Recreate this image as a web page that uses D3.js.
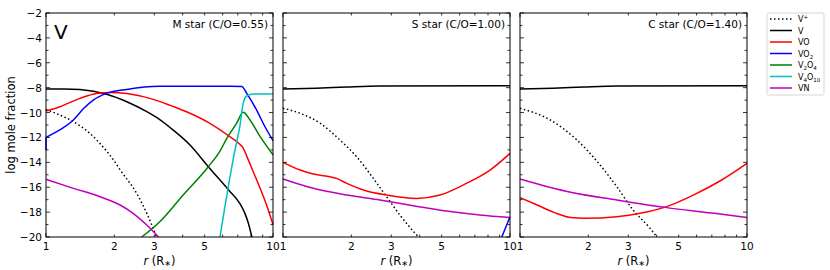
<!DOCTYPE html>
<html><head><meta charset="utf-8">
<script src="https://cdn.jsdelivr.net/npm/d3@7"></script>
<style>body{margin:0;background:#fff}svg{font-family:"DejaVu Sans",sans-serif}</style>
</head><body><svg id="c" width="830" height="270"></svg>
<script>
// ---------- data (r in R*, log mole fraction) ----------
const panelTitles = ["M star (C/O=0.55)", "S star (C/O=1.00)", "C star (C/O=1.40)"];
const yTicks = [-2,-4,-6,-8,-10,-12,-14,-16,-18,-20];
const xTickLabels = [1,2,3,5,10];

const M_Vp = [[1,-9.75],[1.15,-10.2],[1.32,-10.73],[1.56,-11.67],[1.79,-12.8],[2.0,-13.9],[2.12,-14.6],[2.51,-16.5],[2.78,-18.1],[3.02,-19.7],[3.06,-20]];
const M_V = [[1,-8.1],[1.2,-8.1],[1.41,-8.15],[1.85,-8.53],[2.27,-9.13],[2.78,-9.93],[3.16,-10.55],[3.52,-11.2],[4.31,-12.6],[5.19,-14.35],[6.36,-16.2],[7.14,-17.3],[7.52,-18.1],[7.79,-18.9],[8.07,-20]];
const M_VO = [[1,-9.88],[1.15,-9.53],[1.41,-8.86],[1.67,-8.46],[1.91,-8.38],[2.27,-8.46],[2.68,-8.72],[3.16,-9.1],[3.52,-9.42],[4.31,-10.06],[5.27,-10.87],[6.45,-11.94],[7.14,-12.55],[7.39,-12.85],[7.66,-13.5],[8.2,-14.8],[8.78,-16.1],[9.4,-17.5],[10,-19.0]];
const M_VO2_edge = [[1,-13],[1,-12]];
const M_VO2 = [[1,-12],[1.15,-11.4],[1.32,-10.6],[1.46,-9.7],[1.62,-8.98],[1.85,-8.46],[2.27,-8.14],[3.16,-7.89],[4.5,-7.88],[6.5,-7.88],[7.29,-7.9],[7.66,-8.46],[8.47,-9.8],[9.22,-11.14],[10,-12.25]];
const M_V2O4 = [[2.64,-20],[3.18,-18.75],[4.03,-16.6],[5.19,-14.35],[5.84,-13.1],[6.25,-12.1],[6.92,-10.85],[7.39,-9.98],[7.92,-10.6],[8.78,-11.94],[10,-13.4]];
const M_V4O10 = [[5.84,-20],[6.8,-13.0],[7.14,-11.14],[7.39,-9.26],[7.66,-8.67],[8.2,-8.5],[10,-8.5]];
const M_VN = [[1,-15.37],[1.32,-16.09],[1.73,-16.76],[2.12,-17.43],[2.42,-18.1],[2.78,-19.04],[3.13,-20]];

const S_Vp = [[1,-9.66],[1.19,-10.06],[1.46,-10.87],[1.78,-12.2],[2.11,-13.55],[2.5,-15.29],[2.86,-16.76],[3.27,-18.23],[3.88,-19.84],[3.95,-20]];
const S_V = [[1,-8.11],[1.4,-8.05],[1.91,-7.95],[2.67,-7.87],[10,-7.84]];
const S_VO = [[1,-14.0],[1.19,-14.62],[1.36,-14.94],[1.72,-15.29],[1.91,-15.69],[2.26,-16.22],[2.86,-16.63],[3.88,-16.9],[4.92,-16.63],[6.43,-15.69],[8.17,-14.62],[10,-13.28]];
const S_VO2 = [[9.2,-20],[10,-18.37]];
const S_VN = [[1,-15.34],[1.36,-16.09],[1.91,-16.63],[2.67,-17.03],[3.75,-17.48],[5.25,-17.91],[7.37,-18.23],[10,-18.44]];

const C_Vp = [[1,-9.66],[1.36,-10.6],[1.78,-12.2],[2.25,-14.2],[2.67,-15.96],[3.15,-17.83],[3.74,-19.3],[4.01,-20]];
const C_V = [[1,-8.11],[1.4,-8.05],[1.91,-7.95],[2.67,-7.87],[10,-7.84]];
const C_VO = [[1,-16.84],[1.19,-17.43],[1.41,-18.02],[1.67,-18.44],[1.91,-18.5],[2.67,-18.37],[3.38,-18.1],[4.42,-17.56],[5.8,-16.63],[7.6,-15.5],[10,-14.08]];
const C_VN = [[1,-15.34],[1.67,-16.41],[2.67,-17.03],[4.42,-17.64],[7.2,-18.1],[10,-18.44]];

const seriesNames = ["V+","V","VO","VO2","V2O4","V4O10","VN"];
const seriesColors = {"V+":"#000","V":"#000","VO":"#ff0000","VO2":"#0000ff","V2O4":"#008000","V4O10":"#00bfbf","VN":"#bf00bf"};
const panels = [
  {"V+":M_Vp,"V":M_V,"VO":M_VO,"VO2":M_VO2,"V2O4":M_V2O4,"V4O10":M_V4O10,"VN":M_VN},
  {"V+":S_Vp,"V":S_V,"VO":S_VO,"VO2":S_VO2,"VN":S_VN},
  {"V+":C_Vp,"V":C_V,"VO":C_VO,"VN":C_VN}
];

// ---------- layout ----------
const svg = d3.select("#c");
const lefts = [46, 283, 520], pw = 227, pTop = 13, pBot = 237;
const y = d3.scaleLinear().domain([-20,-2]).range([pBot, pTop]);
const fs = 10.5;

panels.forEach((pd, i) => {
  const x0 = lefts[i];
  const x = d3.scaleLog().domain([1,10]).range([x0, x0+pw]);
  const g = svg.append("g");
  const cid = "clip"+i;
  svg.append("defs").append("clipPath").attr("id",cid).append("rect")
    .attr("x",x0-1).attr("y",pTop).attr("width",pw+2).attr("height",pBot-pTop);
  const line = d3.line().x(d=>x(d[0])).y(d=>y(d[1])).curve(d3.curveMonotoneX);
  const lg = g.append("g").attr("clip-path",`url(#${cid})`);
  g.append("rect").attr("x",x0).attr("y",pTop).attr("width",pw).attr("height",pBot-pTop)
    .attr("fill","none").attr("stroke","#000").attr("stroke-width",1);
  seriesNames.forEach(n => {
    if (!pd[n]) return;
    lg.append("path").datum(pd[n]).attr("d",line).attr("fill","none")
      .attr("stroke",seriesColors[n]).attr("stroke-width",1.5)
      .attr("stroke-dasharray", n==="V+" ? "1.5,2.5" : null);
  });
  if (i===0) {
    lg.append("path").datum(M_VO2_edge).attr("d",d3.line().x(d=>x(d[0])).y(d=>y(d[1])))
      .attr("fill","none").attr("stroke",seriesColors["VO2"]).attr("stroke-width",1.5);
  }
  const tk = g.append("g").attr("stroke","#000").attr("stroke-width",0.8);
  [1,10].forEach(v=>{
    tk.append("line").attr("x1",x(v)).attr("x2",x(v)).attr("y1",pBot).attr("y2",pBot-4);
    tk.append("line").attr("x1",x(v)).attr("x2",x(v)).attr("y1",pTop).attr("y2",pTop+4);
  });
  for (let v=2; v<=9; v++) {
    tk.append("line").attr("x1",x(v)).attr("x2",x(v)).attr("y1",pBot).attr("y2",pBot-2.5);
    tk.append("line").attr("x1",x(v)).attr("x2",x(v)).attr("y1",pTop).attr("y2",pTop+2.5);
  }
  for (let v=-20; v<=-2; v++) {
    const L = (v%2===0) ? 4 : 2.5;
    tk.append("line").attr("x1",x0).attr("x2",x0+L).attr("y1",y(v)).attr("y2",y(v));
    tk.append("line").attr("x1",x0+pw).attr("x2",x0+pw-L).attr("y1",y(v)).attr("y2",y(v));
  }
  xTickLabels.forEach(v=>{
    g.append("text").attr("x",x(v)).attr("y",pBot+13).attr("text-anchor","middle")
      .attr("font-size",fs).text(v);
  });
  const xl = g.append("text").attr("x",x0+pw/2).attr("y",265).attr("text-anchor","middle").attr("font-size",11.5);
  xl.append("tspan").attr("font-style","italic").text("r");
  xl.append("tspan").text(" (R");
  xl.append("tspan").attr("font-size",8).attr("dy",1).text("∗");
  xl.append("tspan").attr("dy",-1).text(")");
  g.append("text").attr("x",x0+pw-5).attr("y",pTop+15).attr("text-anchor","end")
    .attr("font-size",10.5).text(panelTitles[i]);
  if (i===0) {
    yTicks.forEach(v=>{
      g.append("text").attr("x",x0-4).attr("y",y(v)+4).attr("text-anchor","end")
        .attr("font-size",fs).text(String(v).replace("-","\u2212"));
    });
    g.append("text").attr("x",x0+8).attr("y",pTop+26).attr("font-size",20).text("V");
  }
});

svg.append("text").attr("transform",`translate(15,${(pTop+pBot)/2}) rotate(-90)`)
  .attr("text-anchor","middle").attr("font-size",11.5).text("log mole fraction");

// ---------- legend ----------
const lgX = 767, lgY = 13;
svg.append("rect").attr("x",lgX).attr("y",lgY).attr("width",57).attr("height",82)
  .attr("fill","#fff").attr("stroke","#ccc").attr("stroke-width",0.8).attr("rx",1.5);
const legendLabels = {
  "V+":[["V",0],["+",-1]], "V":[["V",0]], "VO":[["VO",0]], "VO2":[["VO",0],["2",1]],
  "V2O4":[["V",0],["2",1],["O",0],["4",1]], "V4O10":[["V",0],["4",1],["O",0],["10",1]], "VN":[["VN",0]]
};
seriesNames.forEach((n,k)=>{
  const yy = lgY + 6 + k*11.5;
  svg.append("line").attr("x1",770).attr("x2",792).attr("y1",yy).attr("y2",yy)
    .attr("stroke",seriesColors[n]).attr("stroke-width",1.5)
    .attr("stroke-dasharray", n==="V+" ? "1.5,2.5" : null);
  const t = svg.append("text").attr("x",798).attr("y",yy+3).attr("font-size",8);
  let cur = 0;
  legendLabels[n].forEach(([s,p])=>{
    const sh = p===1 ? 2 : (p===-1 ? -3 : 0);
    t.append("tspan").attr("dy",sh-cur).attr("font-size",p===0?8:5.5).text(s);
    cur = sh;
  });
});
</script></body></html>
